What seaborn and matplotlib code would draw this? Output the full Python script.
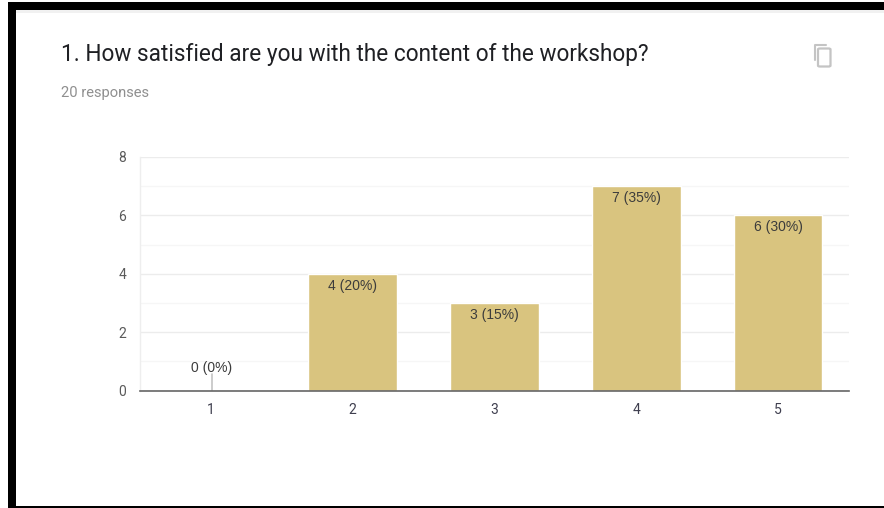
import matplotlib
matplotlib.use("Agg")
import matplotlib.pyplot as plt
from matplotlib.patches import Rectangle, FancyBboxPatch
import pandas as pd
import seaborn as sns

categories = ["1", "2", "3", "4", "5"]
counts = [0, 4, 3, 7, 6]
labels = ["0 (0%)", "4 (20%)", "3 (15%)", "7 (35%)", "6 (30%)"]
y_ticks = [0, 2, 4, 6, 8]
y_minor = [1, 3, 5, 7]
title = "1. How satisfied are you with the content of the workshop?"
subtitle = "20 responses"

W, H = 884, 508
sns.set_theme(style="white")
plt.rcParams["font.family"] = ["Roboto", "DejaVu Sans"]

fig = plt.figure(figsize=(W / 100, H / 100), dpi=100, facecolor="white")
ax = fig.add_axes([140 / W, 1 - 390.5 / H, 709 / W, 233.5 / H])
df = pd.DataFrame({"rating": categories, "count": counts})
sns.barplot(data=df, x="rating", y="count", color="#d9c47f", saturation=1,
            width=0.625, ax=ax, zorder=3)
ax.set_xlim(-0.5, 4.5)
ax.set_ylim(0, 8)
ax.set_xlabel("")
ax.set_ylabel("")
ax.set_yticks(y_ticks)
ax.set_yticks(y_minor, minor=True)
ax.grid(True, axis="y", which="major", color="#ececec", lw=1, zorder=0)
ax.grid(True, axis="y", which="minor", color="#f6f6f6", lw=1, zorder=0)
ax.grid(False, axis="x")
ax.set_axisbelow(True)
ax.tick_params(axis="both", which="both", length=0)
ax.tick_params(axis="y", pad=10, labelsize=10, labelcolor="#5a5a5a")
ax.tick_params(axis="x", pad=9, labelsize=10, labelcolor="#3f3f4f")
for side in ["top", "right"]:
    ax.spines[side].set_visible(False)
ax.spines["left"].set_color("#eeeeee")
ax.spines["left"].set_linewidth(1)
ax.spines["bottom"].set_color("#666666")
ax.spines["bottom"].set_linewidth(1.2)
ax.spines["bottom"].set_zorder(5)

for i, (v, lab) in enumerate(zip(counts, labels)):
    if v == 0:
        ax.plot([i + 0.005, i + 0.005], [0, 0.55], color="#c4c4c4", lw=1.2, zorder=4)
        ax.annotate(lab, (i, v), xytext=(0.5, 11.2), textcoords="offset points",
                    ha="center", va="bottom", fontsize=10, color="#3c3c3c",
                    family="Liberation Sans")
    else:
        ax.annotate(lab, (i, v), xytext=(0, -3.6), textcoords="offset points",
                    ha="center", va="top", fontsize=10, color="#3c3c3c",
                    family="Liberation Sans", zorder=6)

fig.text(61 / W, 1 - 54.5 / H, title, fontsize=16.3, color="#1f2024", va="center", ha="left")
fig.text(61 / W, 1 - 92.5 / H, subtitle, fontsize=10.6, color="#8f8f8f", va="center", ha="left")


def frect(x, y, w, h, **kw):
    return Rectangle((x / W, 1 - (y + h) / H), w / W, h / H,
                     transform=fig.transFigure, **kw)


# Screenshot frame
fig.patches.append(frect(8, 2, W - 8, 8, fc="black", ec="none"))
fig.patches.append(frect(8, 2, 8, H - 2, fc="black", ec="none"))
fig.patches.append(frect(8, H - 2.5, W - 8, 2.5, fc="black", ec="none"))
fig.patches.append(frect(16, 10, W - 16, 3, fc="#f1f1f1", ec="none"))

# Copy icon
fig.add_artist(plt.Line2D([814.5 / W, 814.5 / W, 826 / W],
                          [1 - 60 / H, 1 - 44.5 / H, 1 - 44.5 / H],
                          color="#c4c4c4", lw=1.5))
fig.add_artist(FancyBboxPatch((818 / W, 1 - 66.5 / H), 12.5 / W, 18 / H,
                              boxstyle="round,pad=0,rounding_size=0.002",
                              transform=fig.transFigure, fc="white", ec="#c4c4c4", lw=1.6))

fig.savefig("out.png", dpi=100, facecolor="white")
